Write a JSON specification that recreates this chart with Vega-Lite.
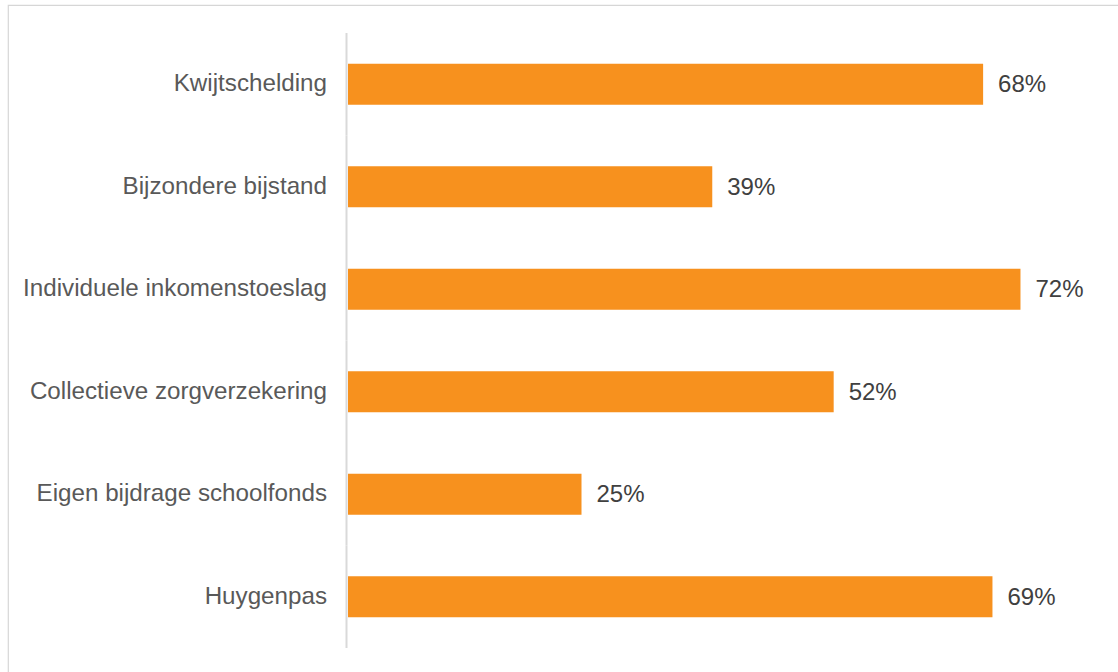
{
  "$schema": "https://vega.github.io/schema/vega-lite/v6.json",
  "autosize": {"type": "none"},
  "padding": {"left": 8, "top": 5, "right": -10, "bottom": -10},
  "width": 1120,
  "height": 677,
  "background": "white",
  "config": {
    "view": {"stroke": "#d6d6d6", "strokeWidth": 1.2},
    "font": "Liberation Sans"
  },
  "data": {
    "values": [
      {"categorie": "Kwijtschelding", "aandeel": 0.68},
      {"categorie": "Bijzondere bijstand", "aandeel": 0.39},
      {"categorie": "Individuele inkomenstoeslag", "aandeel": 0.72},
      {"categorie": "Collectieve zorgverzekering", "aandeel": 0.52},
      {"categorie": "Eigen bijdrage schoolfonds", "aandeel": 0.25},
      {"categorie": "Huygenpas", "aandeel": 0.69}
    ]
  },
  "encoding": {
    "y": {
      "field": "categorie",
      "type": "nominal",
      "sort": null,
      "scale": {"paddingInner": 0.6, "paddingOuter": 0.60244, "align": 0.4757},
      "axis": {
        "title": null,
        "orient": "left",
        "offset": -340,
        "domain": false,
        "ticks": false,
        "labelPadding": 21.5,
        "labelFontSize": 24.2,
        "labelColor": "#595959",
        "labelFont": "Liberation Sans",
        "labelLimit": 0
      }
    }
  },
  "layer": [
    {
      "mark": {"type": "bar", "color": "#F7911E"},
      "encoding": {
        "x": {
          "field": "aandeel",
          "type": "quantitative",
          "scale": {"domain": [-0.36403, 0.83512], "nice": false, "zero": false},
          "axis": null
        }
      }
    },
    {
      "mark": {"type": "rule", "color": "#d9d9d9", "strokeWidth": 2, "xOffset": -1.5},
      "encoding": {
        "x": {"datum": 0, "type": "quantitative"},
        "y": {"field": "categorie", "type": "nominal", "sort": null, "bandPosition": -0.75},
        "y2": {"field": "categorie", "bandPosition": 1.75}
      }
    },
    {
      "mark": {"type": "text", "align": "left", "baseline": "middle", "dx": 15, "dy": 1, "fontSize": 24, "color": "#404040", "font": "Liberation Sans"},
      "encoding": {
        "x": {"field": "aandeel", "type": "quantitative"},
        "text": {"field": "aandeel", "type": "quantitative", "format": ".0%"}
      }
    }
  ]
}
